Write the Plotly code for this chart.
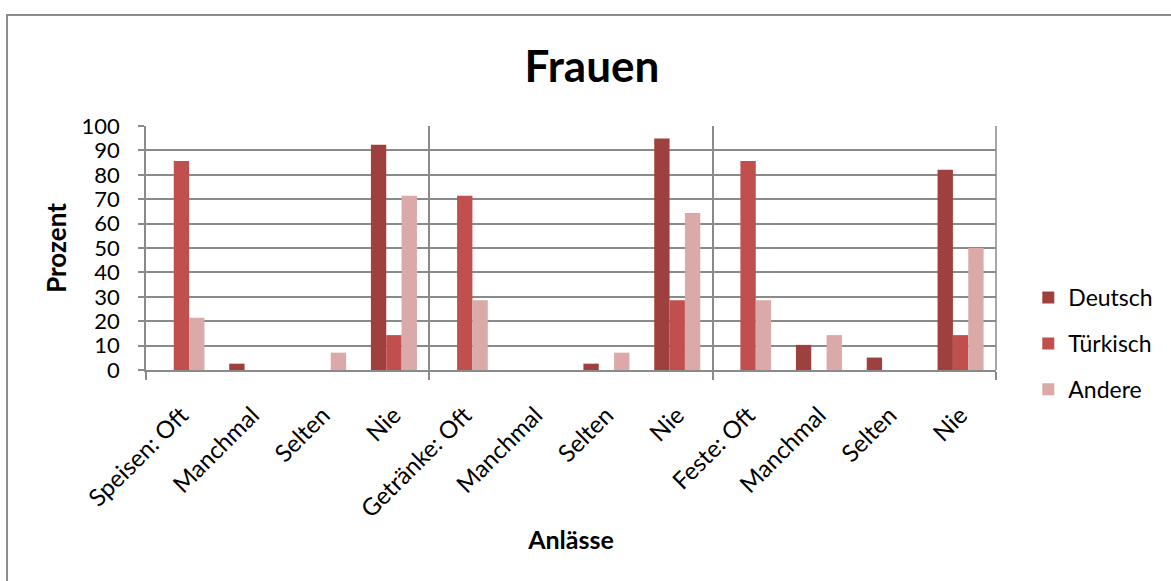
import plotly.graph_objects as go

# Kategorien (Anlässe x Häufigkeit)
categories = ["Speisen: Oft", "Manchmal", "Selten", "Nie",
              "Getränke: Oft", "Manchmal", "Selten", "Nie",
              "Feste: Oft", "Manchmal", "Selten", "Nie"]

# Prozentwerte je Gruppe
deutsch = [0, 2.6, 0, 92.3, 0, 0, 2.6, 94.9, 0, 10.3, 5.1, 82.1]
tuerkisch = [85.7, 0, 0, 14.3, 71.4, 0, 0, 28.6, 85.7, 0, 0, 14.3]
andere = [21.4, 0, 7.1, 71.4, 28.6, 0, 7.1, 64.3, 28.6, 14.3, 0, 50.0]

series_names = ["Deutsch", "Türkisch", "Andere"]
series_values = [deutsch, tuerkisch, andere]
series_colors = ["#9E413E", "#C0504D", "#DAA9A8"]

FONT = "Lato, Open Sans, sans-serif"
GRID = "#8a8a8a"

x_pos = list(range(len(categories)))
group_bounds = [-0.5, 3.5, 7.5, 11.5]

fig = go.Figure()
for name, vals, col in zip(series_names, series_values, series_colors):
    fig.add_trace(go.Bar(
        x=x_pos, y=vals, name=name, legendgroup=name,
        marker=dict(color=col, line=dict(width=0)),
    ))

fig.update_layout(
    width=1171, height=581,
    margin=dict(l=146, r=175, t=126, b=211),
    paper_bgcolor="white", plot_bgcolor="white",
    barmode="group", bargap=0.35, bargroupgap=0,
    font=dict(family=FONT, size=23, color="black"),
    title=dict(text="<b>Frauen</b>", x=0.5055, xanchor="center",
               y=0.886, yanchor="middle",
               font=dict(family=FONT, size=44, color="black")),
    showlegend=True,
    legend=dict(x=1.038, xanchor="left", y=0.385, yanchor="top",
                font=dict(family=FONT, size=23), tracegroupgap=13,
                itemwidth=30, bgcolor="rgba(0,0,0,0)"),
)

fig.update_xaxes(
    range=[-0.5, 11.5],
    tickmode="array", tickvals=x_pos, ticktext=categories,
    tickangle=-45, ticks="", showgrid=False,
    ticklabelstandoff=20,
    tickfont=dict(family=FONT, size=24),
    showline=True, linecolor=GRID, linewidth=1.5,
    minor=dict(tickmode="array", tickvals=group_bounds, showgrid=True,
               gridcolor=GRID, gridwidth=1.5, ticks="outside",
               ticklen=8, tickcolor=GRID, tickwidth=1.5),
    title=dict(text="<b>Anlässe</b>", font=dict(family=FONT, size=25),
               standoff=10),
    zeroline=False,
)

fig.update_yaxes(
    range=[0, 100], dtick=10, tick0=0,
    showgrid=True, gridcolor=GRID, gridwidth=1.5,
    ticks="outside", ticklen=6, tickcolor=GRID, tickwidth=1.5,
    ticklabelstandoff=14,
    tickfont=dict(family=FONT, size=22),
    showline=True, linecolor=GRID, linewidth=1.5, mirror=False,
    zeroline=False,
    title=dict(text="<b>Prozent</b>", font=dict(family=FONT, size=26),
               standoff=7),
)

# Rahmen um die Diagrammfläche
fig.add_shape(type="rect", xref="paper", yref="paper",
              x0=-0.1635, x1=1.25, y0=-1.0, y1=1.455,
              line=dict(color="#8c8c8c", width=2), fillcolor="rgba(0,0,0,0)",
              layer="below")
# Rechter Rand der Zeichenfläche
fig.add_shape(type="line", xref="paper", yref="paper",
              x0=1, x1=1, y0=0, y1=1,
              line=dict(color=GRID, width=1.5))

fig.write_html("out.html")
